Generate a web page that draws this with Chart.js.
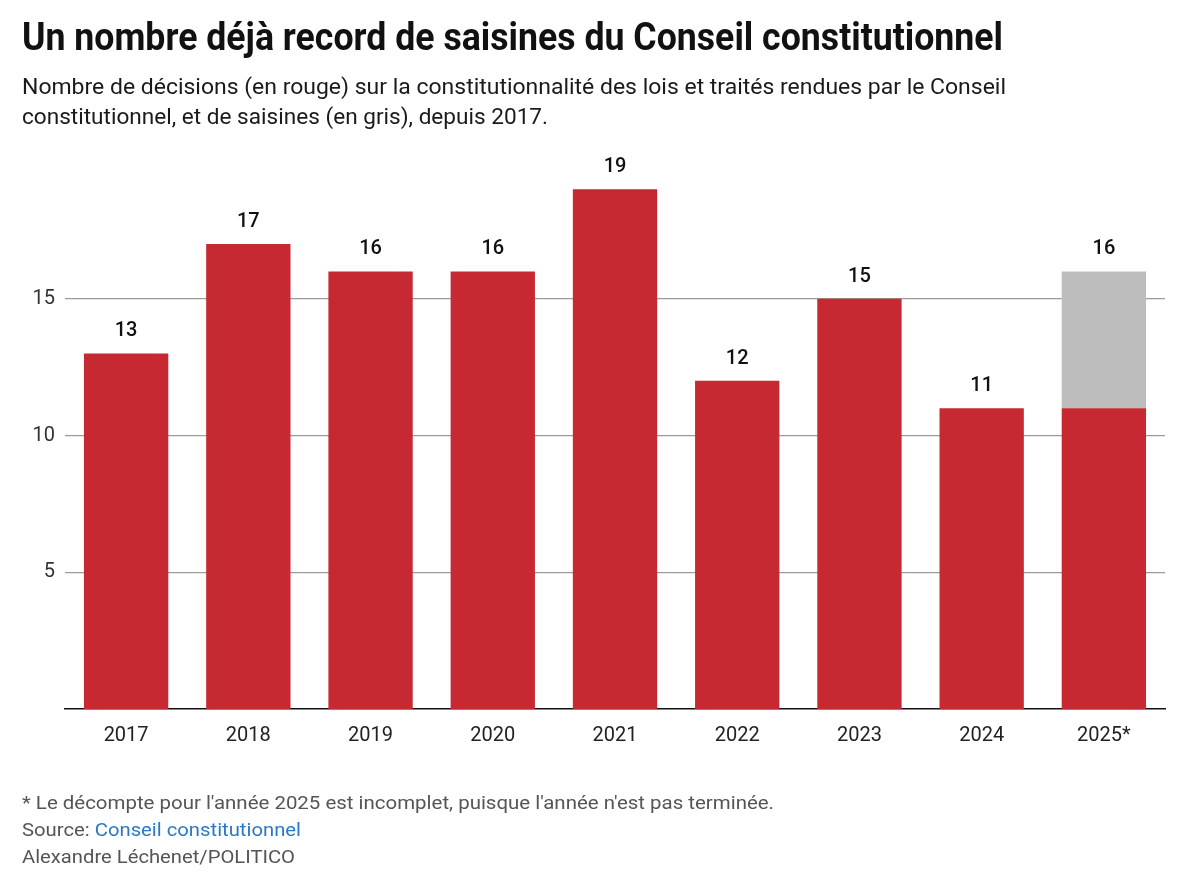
<!DOCTYPE html>
<html lang="fr">
<head>
<meta charset="utf-8">
<script src="https://cdn.jsdelivr.net/npm/chart.js@4.4.1/dist/chart.umd.min.js"></script>
<style>
  html, body { margin: 0; padding: 0; background: #fff; }
  body { width: 1200px; height: 881px; position: relative; overflow: hidden; font-family: 'Roboto', sans-serif; }
  #chart { position: absolute; left: 0; top: 0; }
  .txt { position: absolute; left: 22px; white-space: nowrap; transform-origin: left top; }
  #title { top: 14px; font-size: 38px; font-weight: 700; color: #111; line-height: 46px; }
  .sub { font-size: 22px; color: #1a1a1a; line-height: 30px; }
  #sub1 { top: 72px; }
  #sub2 { top: 102px; }
  .foot { font-size: 18px; color: #555; line-height: 26px; }
  #f1 { top: 790px; }
  #f2 { top: 817px; }
  #f3 { top: 844px; }
  .foot a { color: #2b78c5; text-decoration: none; }
</style>
</head>
<body>
<canvas id="chart" width="1200" height="881"></canvas>
<div id="title" class="txt">Un nombre déjà record de saisines du Conseil constitutionnel</div>
<div id="sub1" class="txt sub">Nombre de décisions (en rouge) sur la constitutionnalité des lois et traités rendues par le Conseil</div>
<div id="sub2" class="txt sub">constitutionnel, et de saisines (en gris), depuis 2017.</div>
<div id="f1" class="txt foot">* Le décompte pour l'année 2025 est incomplet, puisque l'année n'est pas terminée.</div>
<div id="f2" class="txt foot">Source: <a href="#">Conseil constitutionnel</a></div>
<div id="f3" class="txt foot">Alexandre Léchenet/POLITICO</div>
<script>
// data
const years = ['2017', '2018', '2019', '2020', '2021', '2022', '2023', '2024', '2025*'];
const decisions = [13, 17, 16, 16, 19, 12, 15, 11, 11];
const saisines = [13, 17, 16, 16, 19, 12, 15, 11, 16];
const yTicks = [5, 10, 15];

const RED = '#C62932';
const GREY = '#BDBDBD';

// the original uses a narrow DIN face, squeeze text blocks to the same width
function fitWidth(id, target) {
  const el = document.getElementById(id);
  const w = el.getBoundingClientRect().width;
  el.style.transform = 'scaleX(' + (target / w) + ')';
}
fitWidth('title', 981);
fitWidth('sub1', 984);
fitWidth('sub2', 526);
fitWidth('f1', 752);
fitWidth('f2', 279);
fitWidth('f3', 273);

const valueLabels = {
  id: 'valueLabels',
  afterDatasetsDraw(chart) {
    const ctx = chart.ctx;
    const top = chart.getDatasetMeta(chart.data.datasets.length - 1);
    ctx.save();
    ctx.font = '500 20px Roboto';
    ctx.fillStyle = '#111';
    ctx.textAlign = 'center';
    ctx.textBaseline = 'middle';
    top.data.forEach((bar, i) => {
      ctx.fillText(String(saisines[i]), bar.x, bar.y - 22);
    });
    ctx.restore();
  },
};

new Chart(document.getElementById('chart'), {
  type: 'bar',
  data: {
    labels: years,
    datasets: [
      { label: 'Décisions', data: decisions, backgroundColor: RED, borderWidth: 0 },
      { label: 'Saisines', data: saisines.map((v, i) => v - decisions[i]), backgroundColor: GREY, borderWidth: 0 },
    ],
  },
  options: {
    responsive: false,
    animation: false,
    devicePixelRatio: 1,
    barPercentage: 0.69,
    categoryPercentage: 1,
    layout: { padding: { top: 162, right: 35, bottom: 132, left: 0 } },
    plugins: { legend: { display: false }, tooltip: { enabled: false } },
    scales: {
      x: {
        stacked: true,
        grid: { display: false, drawTicks: false },
        border: { color: '#111', width: 1.5 },
        ticks: { color: '#222', font: { family: 'Roboto', size: 20 }, padding: 15 },
        afterFit: (s) => { s.height = 40; },
      },
      y: {
        stacked: true,
        min: 0,
        max: 20,
        afterBuildTicks: (s) => { s.ticks = yTicks.map((v) => ({ value: v })); },
        grid: { color: '#9b9b9b', lineWidth: 1.2, drawTicks: false },
        border: { display: false },
        ticks: { color: '#333', font: { family: 'Roboto', size: 20 }, padding: 10 },
        afterFit: (s) => { s.width = 65; },
      },
    },
  },
  plugins: [valueLabels],
});
</script>
</body>
</html>
